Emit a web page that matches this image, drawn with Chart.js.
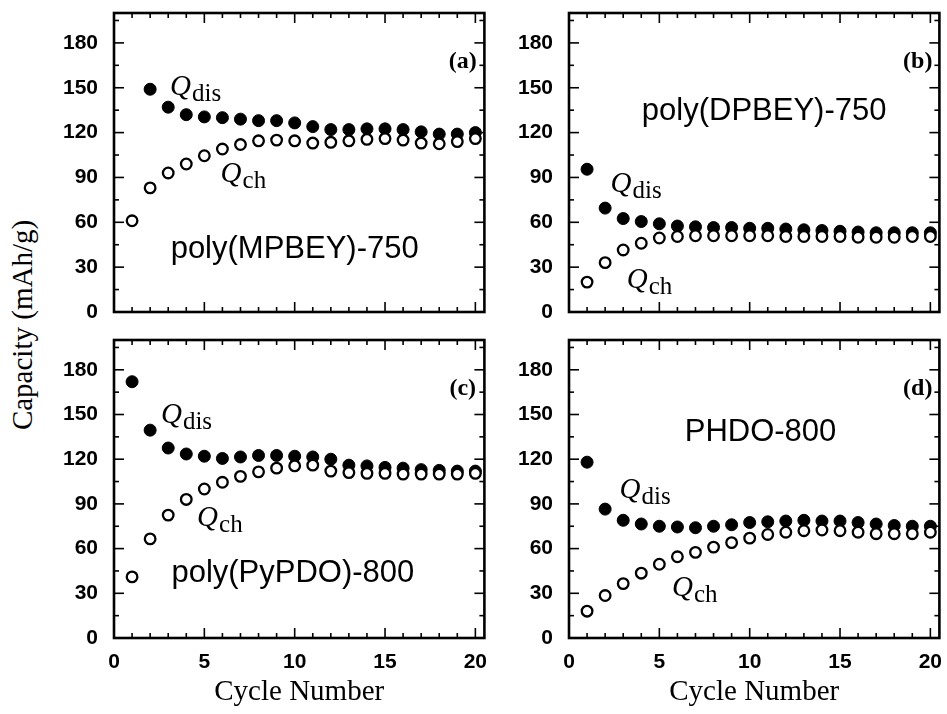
<!DOCTYPE html>
<html>
<head>
<meta charset="utf-8">
<script src="https://cdn.jsdelivr.net/npm/chart.js@4/dist/chart.umd.min.js"></script>
<style>
html,body{margin:0;padding:0;background:#fff;}
body{width:947px;height:714px;position:relative;overflow:hidden;}
canvas{position:absolute;}
#ytitle{position:absolute;left:22px;top:325px;transform:translate(-50%,-50%) rotate(-90deg);
  font-family:"Liberation Serif","Times New Roman",serif;font-size:29px;color:#000;white-space:nowrap;}
</style>
</head>
<body>
<canvas id="ca" width="452" height="330" style="left:40px;top:0px"></canvas>
<canvas id="cb" width="450" height="330" style="left:497px;top:0px"></canvas>
<canvas id="cc" width="452" height="384" style="left:40px;top:330px"></canvas>
<canvas id="cd" width="450" height="384" style="left:497px;top:330px"></canvas>
<div id="ytitle">Capacity (mAh/g)</div>
<script>
// ---------------- data ----------------
const cycles = [1,2,3,4,5,6,7,8,9,10,11,12,13,14,15,16,17,18,19,20];

const aDis = [null,149,137,132,130.5,130,129,128,128,126.5,124,122,122,122.5,122.5,122,120.5,119,119,120];
const aCh  = [61,83,93,99,104.5,109,112,114.5,115,114.5,113,113.5,114.5,115.5,116,115,113,112.5,114,116];

const bDis = [95.5,69.5,62.5,60.5,59,57.5,57,56.5,56.5,56,56,55.5,55,54.5,54,53.5,53,53,53,53];
const bCh  = [20,33,41.5,46,49.5,50.5,51,51,51,51,51,50.5,50.5,50.5,50.5,50,50,50,50.5,50.5];

const cDis = [172,139.5,127.5,123.5,122,120.5,121.5,122.5,122.5,122,121.5,120,116,115.5,114.5,114,113,112.5,112,112];
const cCh  = [41,66.5,82.5,93,100,104.5,108.5,111.5,114,115.5,116,112,111,110.5,110.5,110,110,110,110,110.5];

const dDis = [118,86.5,79,76.5,75,74.5,74,75,76,77.5,78,78.5,79,78.5,78.5,77.5,76.5,75.5,75,75];
const dCh  = [18,28.5,36.5,43.5,49.5,54.5,57.5,61,64,67,69.5,71,72,72.5,72,71,70,70,70,71];

const yTickVals = [0,30,60,90,120,150,180];
const xTickVals = [0,5,10,15,20];
const panelLetters = ['(a)','(b)','(c)','(d)'];
const sampleNames = ['poly(MPBEY)-750','poly(DPBEY)-750','poly(PyPDO)-800','PHDO-800'];

// ---------------- layout / styling ----------------
const X_MIN = 0, X_MAX = 20.5, Y_MIN = 0, Y_MAX = 200;
const SANS = '"Liberation Sans", Arial, sans-serif';
const SERIF = '"Liberation Serif", "Times New Roman", serif';

const panels = [
  {id:'ca', dis:aDis, ch:aCh, k:0, yW:74, padTop:13, xH:18, bottomRow:false,
   nameAt:[10.0,42], qDisAt:[3.1,145], qChAt:[5.9,87]},
  {id:'cb', dis:bDis, ch:bCh, k:1, yW:72, padTop:13, xH:18, bottomRow:false,
   nameAt:[10.8,134], qDisAt:[2.3,80], qChAt:[3.2,16]},
  {id:'cc', dis:cDis, ch:cCh, k:2, yW:74, padTop:10, xH:76, bottomRow:true,
   nameAt:[9.9,43], qDisAt:[2.6,144], qChAt:[4.6,75]},
  {id:'cd', dis:dDis, ch:dCh, k:3, yW:72, padTop:10, xH:76, bottomRow:true,
   nameAt:[10.6,138], qDisAt:[2.8,94], qChAt:[5.7,28]}
];

function line(ctx,x1,y1,x2,y2){ctx.beginPath();ctx.moveTo(x1,y1);ctx.lineTo(x2,y2);ctx.stroke();}

const framePlugin = {
  id:'frame',
  afterDraw(chart, args, o){
    const ctx = chart.ctx;
    const {left,right,top,bottom} = chart.chartArea;
    const xs = chart.scales.x, ys = chart.scales.y;
    ctx.save();
    ctx.strokeStyle = '#000';
    ctx.lineCap = 'butt';
    ctx.lineWidth = 1.6;
    for (let v = X_MIN; v <= X_MAX; v += 1) {
      const px = xs.getPixelForValue(v);
      const L = (v % 5 === 0) ? 10 : 5;
      line(ctx, px, bottom, px, bottom - L);
      line(ctx, px, top, px, top + L);
    }
    for (let v = Y_MIN; v <= Y_MAX; v += 15) {
      const py = ys.getPixelForValue(v);
      const L = (v % 30 === 0) ? 10 : 5;
      line(ctx, left, py, left + L, py);
      line(ctx, right, py, right - L, py);
    }
    ctx.lineWidth = 2.6;
    ctx.strokeRect(left, top, right - left, bottom - top);

    // annotations
    ctx.fillStyle = '#000';
    ctx.font = 'bold 24px ' + SERIF;
    ctx.textAlign = 'center'; ctx.textBaseline = 'middle';
    ctx.fillText(panelLetters[o.k], xs.getPixelForValue(19.3), ys.getPixelForValue(167.5));
    ctx.font = '31px ' + SANS;
    ctx.fillText(sampleNames[o.k], xs.getPixelForValue(o.nameAt[0]), ys.getPixelForValue(o.nameAt[1]));
    const drawQ = (at, sub) => {
      const px = xs.getPixelForValue(at[0]), py = ys.getPixelForValue(at[1]);
      ctx.textAlign = 'left'; ctx.textBaseline = 'alphabetic';
      ctx.font = 'italic 29px ' + SERIF;
      ctx.fillText('Q', px, py);
      const w = ctx.measureText('Q').width;
      ctx.font = '25px ' + SERIF;
      ctx.fillText(sub, px + w + 1, py + 6);
    };
    drawQ(o.qDisAt, 'dis');
    drawQ(o.qChAt, 'ch');
    ctx.restore();
  }
};

function makeChart(p){
  const toPts = arr => cycles.map((c,i)=>({x:c, y:arr[i]})).filter(d => d.y !== null);
  new Chart(document.getElementById(p.id), {
    type:'scatter',
    data:{datasets:[
      {label:'Qch', data:toPts(p.ch), showLine:false, pointStyle:'circle',
       pointRadius:5.3, pointBorderWidth:2.3, pointBackgroundColor:'#fff', pointBorderColor:'#000'},
      {label:'Qdis', data:toPts(p.dis), showLine:false, pointStyle:'circle',
       pointRadius:6, pointBorderWidth:1, pointBackgroundColor:'#000', pointBorderColor:'#000'}
    ]},
    options:{
      responsive:false, animation:false, events:[],
      layout:{padding:{top:p.padTop, right:7, bottom:0, left:0}},
      plugins:{legend:{display:false}, tooltip:{enabled:false}, frame:{k:p.k, nameAt:p.nameAt, qDisAt:p.qDisAt, qChAt:p.qChAt}},
      scales:{
        x:{type:'linear', min:X_MIN, max:X_MAX, position:'bottom',
           grid:{display:false, drawTicks:false, tickLength:0}, border:{display:false},
           afterBuildTicks: s => { s.ticks = xTickVals.map(v => ({value:v})); },
           afterFit: s => { s.height = p.xH; s.paddingLeft = 0; s.paddingRight = 0; },
           ticks:{display:p.bottomRow, color:'#000', padding:12, autoSkip:false, maxRotation:0,
                  font:{family:SANS, size:21, weight:'bold'}},
           title:{display:p.bottomRow, text:'Cycle Number', color:'#000',
                  font:{family:SERIF, size:29}, padding:{top:0,bottom:4}}},
        y:{type:'linear', min:Y_MIN, max:Y_MAX, position:'left',
           grid:{display:false, drawTicks:false, tickLength:0}, border:{display:false},
           afterBuildTicks: s => { s.ticks = yTickVals.map(v => ({value:v})); },
           afterFit: s => { s.width = p.yW; s.paddingTop = 0; s.paddingBottom = 0; },
           ticks:{color:'#000', padding:16, font:{family:SANS, size:21, weight:'bold'}}}
      }
    },
    plugins:[framePlugin]
  });
}
panels.forEach(makeChart);
</script>
</body>
</html>
